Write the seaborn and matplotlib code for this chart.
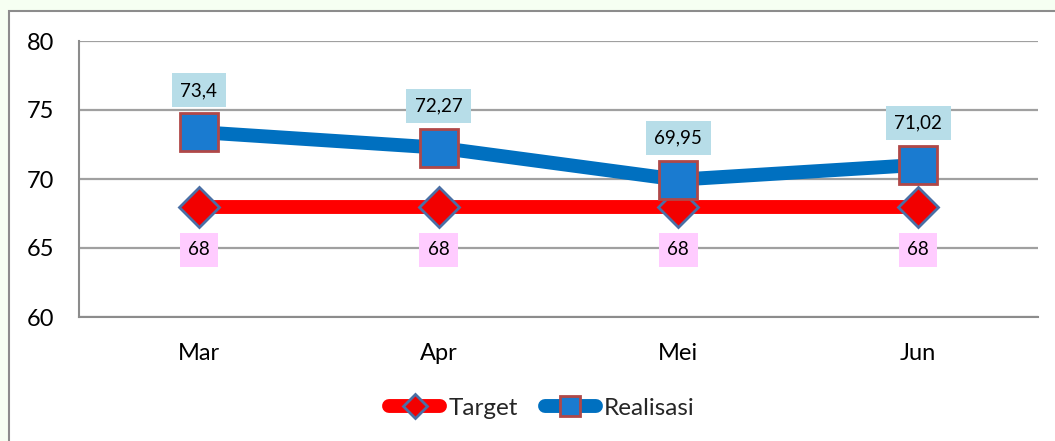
import matplotlib
matplotlib.use("Agg")
import matplotlib.pyplot as plt
from matplotlib.patches import Rectangle
import seaborn as sns
import pandas as pd

bulan = ["Mar", "Apr", "Mei", "Jun"]
target = [68, 68, 68, 68]
realisasi = [73.4, 72.27, 69.95, 71.02]
target_labels = ["68", "68", "68", "68"]
realisasi_labels = ["73,4", "72,27", "69,95", "71,02"]
y_ticks = [60, 65, 70, 75, 80]

sns.set_theme(style="white")
plt.rcParams["font.family"] = ["Lato", "DejaVu Sans"]

fig = plt.figure(figsize=(10.55, 4.41), dpi=100)
fig.patch.set_facecolor("#F6FFF2")
frame = Rectangle((9 / 1055, -0.05), 1.1, 1 - 11 / 441 + 0.05, transform=fig.transFigure,
                  facecolor="white", edgecolor="#8C8C8C", linewidth=1.5, zorder=-10)
fig.add_artist(frame)

ax = fig.add_axes([79 / 1055, 1 - 317 / 441, (1038 - 79) / 1055, (317 - 41) / 441])
ax.set_zorder(5)
ax.set_facecolor("white")

df_t = pd.DataFrame({"bulan": bulan, "nilai": target})
df_r = pd.DataFrame({"bulan": bulan, "nilai": realisasi})

sns.lineplot(data=df_t, x="bulan", y="nilai", ax=ax, color="#FF0000", linewidth=10,
             marker="D", markersize=20, markerfacecolor="#F20000", markeredgecolor="#4A6FA5",
             markeredgewidth=2, label="Target", solid_capstyle="round", zorder=3)
sns.lineplot(data=df_r, x="bulan", y="nilai", ax=ax, color="#0070C0", linewidth=10,
             marker="s", markersize=27, markerfacecolor="#1A7BD0", markeredgecolor="#B04848",
             markeredgewidth=2, label="Realisasi", solid_capstyle="round", zorder=4)

for i, (v, lab) in enumerate(zip(realisasi, realisasi_labels)):
    ax.annotate(lab, (i, v), xytext=(0, 30), textcoords="offset points", ha="center", va="center",
                fontsize=13.5, color="black", zorder=6,
                bbox=dict(boxstyle="square,pad=0.45", facecolor="#B7DDE8", edgecolor="none"))
for i, (v, lab) in enumerate(zip(target, target_labels)):
    ax.annotate(lab, (i, v), xytext=(0, -31), textcoords="offset points", ha="center", va="center",
                fontsize=13.5, color="black", zorder=6,
                bbox=dict(boxstyle="square,pad=0.45", facecolor="#FFCCFF", edgecolor="none"))

ax.set_xlim(-0.5, 3.5)
ax.set_ylim(60, 80)
ax.set_yticks(y_ticks)
ax.set_xticks(range(len(bulan)))
ax.set_xticklabels(bulan)
ax.grid(axis="y", color="#A0A0A0", linewidth=1.6)
ax.grid(axis="x", visible=False)
ax.set_axisbelow(True)
ax.set_xlabel("")
ax.set_ylabel("")
for s in ["top", "right"]:
    ax.spines[s].set_visible(False)
for s in ["left", "bottom"]:
    ax.spines[s].set_color("#8C8C8C")
    ax.spines[s].set_linewidth(1.5)
ax.tick_params(axis="y", length=0, pad=18, labelsize=17, labelcolor="black")
ax.tick_params(axis="x", length=0, pad=19, labelsize=17, labelcolor="black")

leg = ax.legend(loc="center", bbox_to_anchor=(463 / 959, (317 - 408) / 276), ncol=2, frameon=False,
                fontsize=17.5, handlelength=2.1, handletextpad=0.35, columnspacing=1.1)
leg.legend_handles[0].set_markersize(12)
leg.legend_handles[1].set_markersize(14)
for h in leg.legend_handles:
    h.set_solid_capstyle("round")

fig.savefig("out.png", dpi=100, facecolor=fig.get_facecolor())
